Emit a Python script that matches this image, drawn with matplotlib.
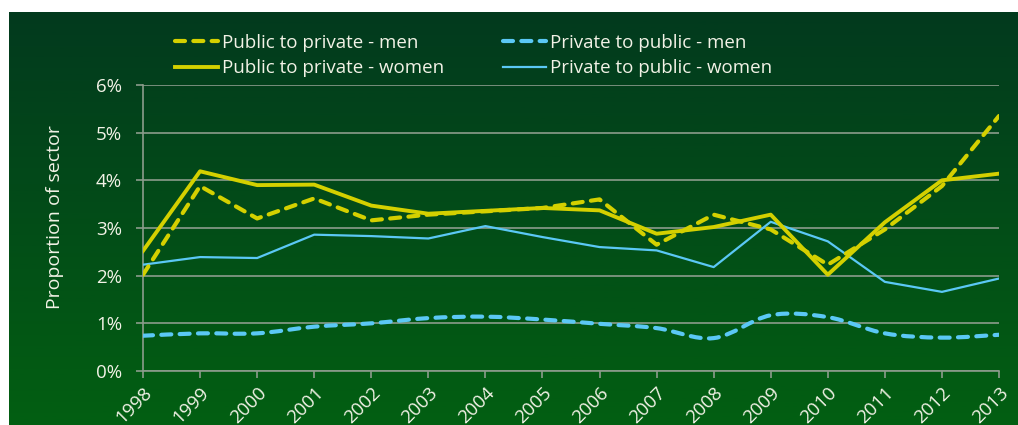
import numpy as np
import matplotlib
matplotlib.use("Agg")
import matplotlib.pyplot as plt
from matplotlib.path import Path
from matplotlib.patches import PathPatch
from matplotlib.lines import Line2D
from matplotlib.colors import LinearSegmentedColormap

years = list(range(1998, 2014))
pub_priv_men = [2.02, 3.88, 3.20, 3.62, 3.16, 3.28, 3.35, 3.42, 3.60, 2.65, 3.28, 2.97, 2.23, 2.97, 3.88, 5.35]
pub_priv_women = [2.52, 4.19, 3.90, 3.91, 3.47, 3.30, 3.36, 3.42, 3.37, 2.88, 3.02, 3.28, 2.02, 3.12, 4.00, 4.14]
priv_pub_men = [0.74, 0.79, 0.79, 0.93, 1.00, 1.11, 1.14, 1.08, 0.99, 0.90, 0.69, 1.17, 1.13, 0.79, 0.70, 0.76]
priv_pub_women = [2.23, 2.39, 2.37, 2.86, 2.83, 2.78, 3.04, 2.81, 2.60, 2.53, 2.18, 3.13, 2.72, 1.87, 1.66, 1.94]
y_ticks = [0, 1, 2, 3, 4, 5, 6]
y_tick_labels = ["0%", "1%", "2%", "3%", "4%", "5%", "6%"]

YELLOW = "#d4d000"
BLUE = "#5bc8f5"
GRID = "#8c9c8c"
TEXT = "#f2f2e6"

plt.rcParams["font.family"] = ["Open Sans", "DejaVu Sans"]

W, H = 1018, 425
fig = plt.figure(figsize=(W / 100, H / 100), dpi=100)
fig.patch.set_facecolor("white")

# gradient panel behind the chart
bg = fig.add_axes([9 / W, 0, 1 - 9 / W, 1 - 12 / H])
bg.set_axis_off()
cmap = LinearSegmentedColormap.from_list("panel", ["#023a1e", "#025f12"])
grad = np.linspace(0, 1, 256).reshape(-1, 1)
bg.imshow(grad, aspect="auto", cmap=cmap, extent=[0, 1, 0, 1], origin="upper")
bg.set_xlim(0, 1)
bg.set_ylim(0, 1)

ax = fig.add_axes([143 / W, 1 - 371 / H, (999 - 143) / W, (371 - 85) / H])
ax.set_facecolor("none")


def smooth_path(xs, ys):
    """Catmull-Rom style cubic Bezier path through the given points."""
    xs = np.asarray(xs, float)
    ys = np.asarray(ys, float)
    n = len(xs)
    verts = [(xs[0], ys[0])]
    codes = [Path.MOVETO]
    for i in range(n - 1):
        x0, y0 = (xs[i - 1], ys[i - 1]) if i > 0 else (xs[i], ys[i])
        x1, y1 = xs[i], ys[i]
        x2, y2 = xs[i + 1], ys[i + 1]
        x3, y3 = (xs[i + 2], ys[i + 2]) if i + 2 < n else (x2, y2)
        c1 = (x1 + (x2 - x0) / 6, y1 + (y2 - y0) / 6)
        c2 = (x2 - (x3 - x1) / 6, y2 - (y3 - y1) / 6)
        verts += [c1, c2, (x2, y2)]
        codes += [Path.CURVE4] * 3
    return Path(verts, codes)


dash = (2.4, 2.0)
ax.plot(years, priv_pub_women, color=BLUE, lw=1.6, zorder=3)
ax.add_patch(PathPatch(smooth_path(years, priv_pub_men), fill=False, edgecolor=BLUE,
                       lw=3.0, linestyle=(0, dash), capstyle="round", zorder=3))
ax.plot(years, pub_priv_women, color=YELLOW, lw=2.8, zorder=4)
ax.plot(years, pub_priv_men, color=YELLOW, lw=3.0, dashes=dash,
        dash_capstyle="round", zorder=4)

ax.set_xlim(1998, 2013)
ax.set_ylim(0, 6)
ax.set_yticks(y_ticks)
ax.set_yticklabels(y_tick_labels)
ax.set_xticks(years)
ax.set_xticklabels([str(y) for y in years], rotation=45, ha="right",
                   rotation_mode="anchor")
ax.grid(axis="y", color=GRID, lw=1.2)
ax.set_axisbelow(True)
for s in ["top", "right"]:
    ax.spines[s].set_visible(False)
for s in ["left", "bottom"]:
    ax.spines[s].set_color(GRID)
    ax.spines[s].set_linewidth(1.2)
ax.tick_params(axis="both", colors=GRID, labelcolor=TEXT, labelsize=13.5,
               length=5, width=1.2, direction="out")
ax.tick_params(axis="x", pad=4)
ax.tick_params(axis="y", pad=10)

fig.text(55 / W, 1 - 217 / H, "Proportion of sector", color=TEXT, fontsize=14,
         rotation=90, ha="center", va="center")

legend_kw = dict(frameon=False, fontsize=13.5, labelcolor=TEXT,
                 handlelength=2.3, handletextpad=0.2, labelspacing=0.38,
                 borderpad=0, borderaxespad=0, loc="upper left")

leg1 = fig.legend(
    [Line2D([], [], color=YELLOW, lw=3.0, dashes=dash, dash_capstyle="round"),
     Line2D([], [], color=YELLOW, lw=2.8)],
    ["Public to private - men", "Public to private - women"],
    bbox_to_anchor=(175 / W, 1 - 34 / H), **legend_kw)
leg2 = fig.legend(
    [Line2D([], [], color=BLUE, lw=3.0, dashes=dash, dash_capstyle="round"),
     Line2D([], [], color=BLUE, lw=1.6)],
    ["Private to public - men", "Private to public - women"],
    bbox_to_anchor=(503 / W, 1 - 34 / H), **legend_kw)

fig.savefig("out.png", dpi=100)
